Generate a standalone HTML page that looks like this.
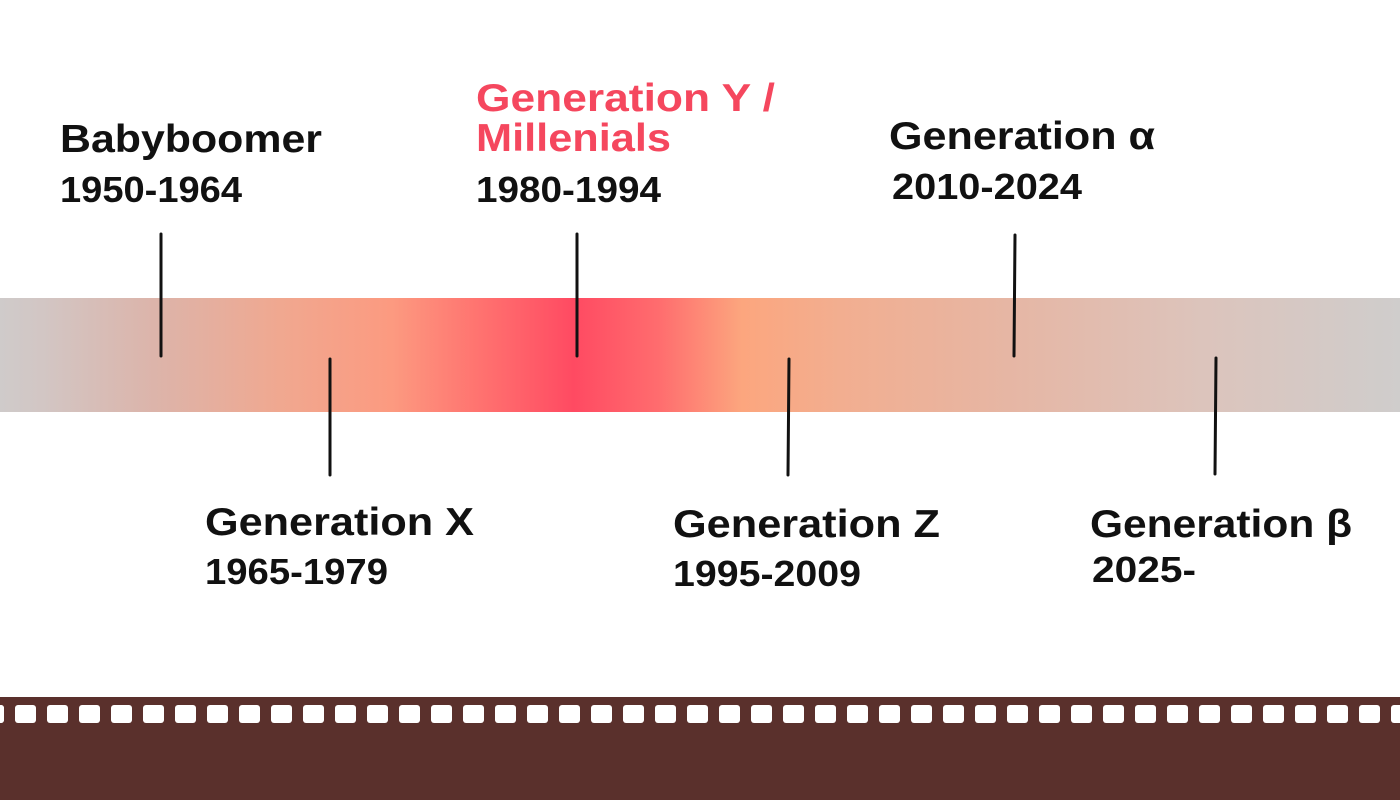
<!DOCTYPE html>
<html><head><meta charset="utf-8"><style>
html,body{margin:0;padding:0;background:#fff;width:1400px;height:800px;overflow:hidden}
svg text{font-family:"Liberation Sans",sans-serif;}
.l{font-weight:bold;font-size:39px;fill:#111}
.y{font-size:36px;fill:#111;font-weight:bold;stroke:#fff;stroke-width:0.6px;paint-order:stroke}
</style></head><body>
<svg width="1400" height="800" viewBox="0 0 1400 800" xmlns="http://www.w3.org/2000/svg">
<defs>
<linearGradient id="g" x1="0" x2="1400" y1="0" y2="0" gradientUnits="userSpaceOnUse">
<stop offset="0" stop-color="#cfcbca"/>
<stop offset="0.03" stop-color="#d2c6c4"/>
<stop offset="0.11" stop-color="#dcb4aa"/>
<stop offset="0.2" stop-color="#f0a890"/>
<stop offset="0.28" stop-color="#fc9a80"/>
<stop offset="0.34" stop-color="#ff7470"/>
<stop offset="0.41" stop-color="#ff4a62"/>
<stop offset="0.47" stop-color="#ff6c6e"/>
<stop offset="0.53" stop-color="#fca67e"/>
<stop offset="0.6" stop-color="#f2ae90"/>
<stop offset="0.72" stop-color="#e6b6a4"/>
<stop offset="0.86" stop-color="#dcc4bc"/>
<stop offset="1" stop-color="#cfcdcc"/>
</linearGradient>
<pattern id="h" x="15" y="0" width="32" height="800" patternUnits="userSpaceOnUse">
<rect x="0" y="705" width="21" height="18" rx="3" fill="#fff"/>
</pattern>
</defs>
<rect x="0" y="298" width="1400" height="114" fill="url(#g)"/>
<rect x="0" y="697" width="1400" height="103" fill="#5a302c"/>
<rect x="0" y="697" width="1400" height="103" fill="url(#h)"/>
<rect x="-17" y="705" width="21" height="18" rx="3" fill="#fff"/>
<g stroke="#111" stroke-width="3" stroke-linecap="round">
<line x1="161" y1="234" x2="161" y2="356"/>
<line x1="330" y1="359" x2="330" y2="475"/>
<line x1="577" y1="234" x2="577" y2="356"/>
<line x1="789" y1="359" x2="788" y2="475"/>
<line x1="1015" y1="235" x2="1014" y2="356"/>
<line x1="1216" y1="358" x2="1215" y2="474"/>
</g>
<text class="l" x="60" y="152" textLength="262" lengthAdjust="spacingAndGlyphs">Babyboomer</text>
<text class="y" x="60" y="202" textLength="182" lengthAdjust="spacingAndGlyphs">1950-1964</text>
<text class="l" x="205" y="535" textLength="269" lengthAdjust="spacingAndGlyphs">Generation X</text>
<text class="y" x="205" y="584" textLength="183" lengthAdjust="spacingAndGlyphs">1965-1979</text>
<text class="l" x="476" y="111" textLength="299" lengthAdjust="spacingAndGlyphs" style="fill:#f5475e">Generation Y /</text>
<text class="l" x="476" y="151" textLength="195" lengthAdjust="spacingAndGlyphs" style="fill:#f5475e">Millenials</text>
<text class="y" x="476" y="202" textLength="185" lengthAdjust="spacingAndGlyphs">1980-1994</text>
<text class="l" x="889" y="149" textLength="266" lengthAdjust="spacingAndGlyphs">Generation α</text>
<text class="y" x="892" y="199" textLength="190" lengthAdjust="spacingAndGlyphs">2010-2024</text>
<text class="l" x="673" y="537" textLength="267" lengthAdjust="spacingAndGlyphs">Generation Z</text>
<text class="y" x="673" y="586" textLength="188" lengthAdjust="spacingAndGlyphs">1995-2009</text>
<text class="l" x="1090" y="537" textLength="262" lengthAdjust="spacingAndGlyphs">Generation β</text>
<text class="y" x="1092" y="582" textLength="104" lengthAdjust="spacingAndGlyphs">2025-</text>
</svg>
</body></html>
